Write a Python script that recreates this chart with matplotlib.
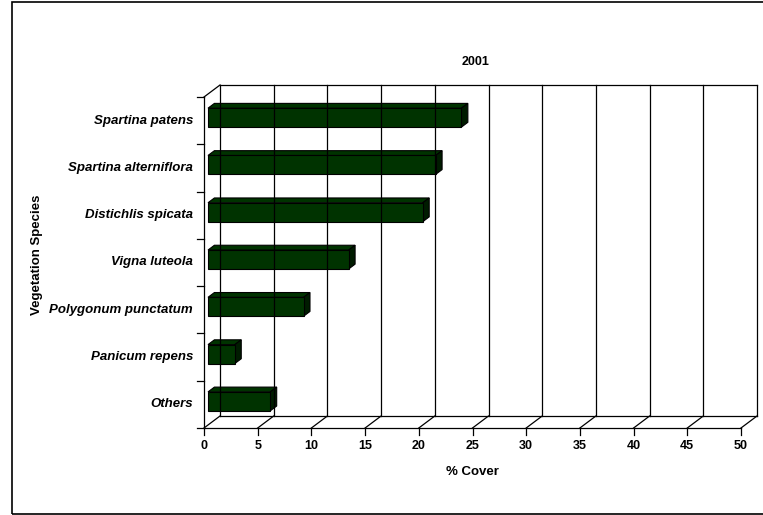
import matplotlib
matplotlib.use('Agg')
import matplotlib.pyplot as plt
from matplotlib.patches import Polygon, Rectangle

# Vegetation cover data, 2001
species = ['Spartina patens', 'Spartina alterniflora', 'Distichlis spicata',
           'Vigna luteola', 'Polygonum punctatum', 'Panicum repens', 'Others']
cover = [23.6, 21.2, 20.0, 13.1, 8.9, 2.5, 5.8]
x_ticks = [0, 5, 10, 15, 20, 25, 30, 35, 40, 45, 50]

plt.rcParams['font.family'] = ['Liberation Sans', 'DejaVu Sans']

W, H = 763, 515
fig = plt.figure(figsize=(W / 100, H / 100), dpi=100)

# outer chart border
fig.patches.append(Rectangle((12 / W, 1 / H), 1.2, (513 - 1) / H, transform=fig.transFigure,
                             fill=False, edgecolor='black', linewidth=1.2))

# front plane of the 3D box
ax_l, ax_b, ax_w, ax_h = 204, 428, 537, 331
ax = fig.add_axes([ax_l / W, (H - ax_b) / H, ax_w / W, ax_h / H])
n = len(species)
ax.set_xlim(0, 50)
ax.set_ylim(n, 0)
ax.axis('off')

# depth of the box in data units (16 px right, 12 px up)
DX = 16 * 50 / ax_w
DY = 12 * n / ax_h


def shift(x, y, d):
    return (x + d * DX, y - d * DY)


line_kw = dict(color='black', linewidth=0.9, clip_on=False)

# back wall with gridlines
for x in x_ticks:
    p0 = shift(x, n, 1)
    p1 = shift(x, 0, 1)
    ax.plot([p0[0], p1[0]], [p0[1], p1[1]], **line_kw)
t0, t1 = shift(0, 0, 1), shift(50, 0, 1)
ax.plot([t0[0], t1[0]], [t0[1], t1[1]], **line_kw)

# floor
b0, b1 = shift(0, n, 1), shift(50, n, 1)
ax.plot([b0[0], b1[0]], [b0[1], b1[1]], **line_kw)
ax.plot([0, 50], [n, n], **line_kw)
for x in x_ticks:
    p = shift(x, n, 1)
    ax.plot([x, p[0]], [n, p[1]], **line_kw)

# left wall
ax.plot([0, 0], [0, n], **line_kw)
p = shift(0, 0, 1)
ax.plot([0, p[0]], [0, p[1]], **line_kw)

# tick marks
tick_x = 7 * 50 / ax_w
tick_y = 7 * n / ax_h
for x in x_ticks:
    ax.plot([x, x], [n, n + tick_y], **line_kw)
    ax.text(x, n + 18 * n / ax_h, str(x), ha='center', va='center',
            fontsize=9, fontweight='bold')
for i in range(n + 1):
    ax.plot([-tick_x, 0], [i, i], **line_kw)

# 3D bars
face = '#003300'
side = '#001c00'
half = 0.2
d0, d1 = 0.25, 0.65
for i, v in enumerate(cover):
    c = i + 0.5
    ft_l = shift(0, c - half, d0)
    ft_r = shift(v, c - half, d0)
    fb_r = shift(v, c + half, d0)
    bt_l = shift(0, c - half, d1)
    bt_r = shift(v, c - half, d1)
    bb_r = shift(v, c + half, d1)
    ax.add_patch(Polygon([ft_l, ft_r, bt_r, bt_l], closed=True, facecolor=face,
                         edgecolor='black', linewidth=0.8, clip_on=False))
    ax.add_patch(Polygon([ft_r, bt_r, bb_r, fb_r], closed=True, facecolor=side,
                         edgecolor='black', linewidth=0.8, clip_on=False))
    ax.add_patch(Rectangle(ft_l, v, 2 * half, facecolor=face,
                           edgecolor='black', linewidth=0.8, clip_on=False))
    ax.text(-11 * 50 / ax_w, c, species[i], ha='right', va='center',
            fontsize=9.5, fontweight='bold', fontstyle='italic')

# titles
fig.text(476 / W, 1 - 62 / H, '2001', ha='center', va='center',
         fontsize=9, fontweight='bold')
fig.text(472 / W, 1 - 472 / H, '% Cover', ha='center', va='center',
         fontsize=9.5, fontweight='bold')
fig.text(37 / W, 1 - 255 / H, 'Vegetation Species', ha='center', va='center',
         rotation=90, fontsize=9.5, fontweight='bold')

fig.savefig('out.png', dpi=100)
